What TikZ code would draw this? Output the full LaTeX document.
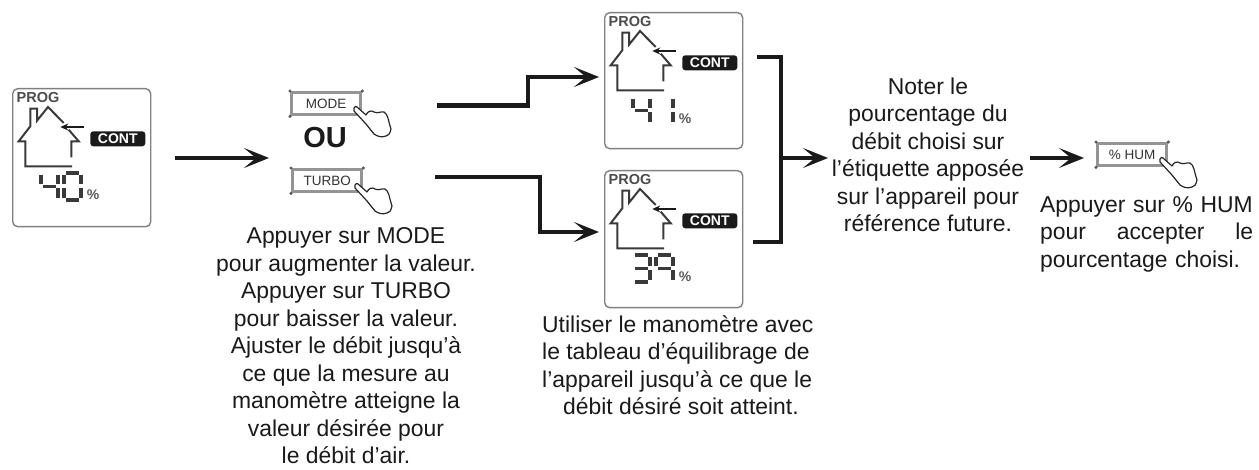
\documentclass[tikz,border=0pt]{standalone}
\usepackage{fontspec}
\setmainfont{Liberation Sans}
\usetikzlibrary{arrows.meta}
\definecolor{ink}{HTML}{1A1A1A}
\definecolor{lcd}{HTML}{3A3A3A}
\tikzset{
  x=1pt,y=-1pt,
  panelbox/.style={draw=black!50,line width=1.4pt,rounded corners=5pt,fill=white,minimum width=138pt,anchor=north west,inner sep=0pt},
  btnbox/.style={draw=black!42,fill=white,line width=3.4pt,minimum width=69pt,minimum height=22pt,anchor=north west,inner sep=0pt,font=\fontsize{13.5}{15}\selectfont,text=black!80},
  flow/.style={draw=ink,line width=4.4pt,-{Stealth[length=25pt,width=20pt,inset=12pt]}},
  flowplain/.style={draw=ink,line width=4.4pt},
  body/.style={font=\fontsize{22.9}{27.5}\selectfont,align=center,text=ink,inner sep=0pt},
  houseline/.style={draw=lcd,line width=2pt},
  handline/.style={draw=black!85,line width=1.2pt,fill=white,line join=round},
  segline/.style={draw=lcd,line width=3.5pt},
  cornerdot/.style={fill=black!65},
}
% seven-segment digit: local box 17 x 27
\newcommand{\sgA}{\draw[segline] (2,0) -- (15,0);}
\newcommand{\sgB}{\draw[segline] (17,2) -- (17,11.5);}
\newcommand{\sgC}{\draw[segline] (17,15.5) -- (17,25);}
\newcommand{\sgD}{\draw[segline] (2,27) -- (15,27);}
\newcommand{\sgE}{\draw[segline] (0,15.5) -- (0,25);}
\newcommand{\sgF}{\draw[segline] (0,2) -- (0,11.5);}
\newcommand{\sgG}{\draw[segline] (2,13.5) -- (15,13.5);}
\newcommand{\btndots}[1]{%
  \fill[cornerdot] (#1.north west) circle (1.7pt);
  \fill[cornerdot] (#1.north east) circle (1.7pt);
  \fill[cornerdot] (#1.south west) circle (1.7pt);
  \fill[cornerdot] (#1.south east) circle (1.7pt);}
\tikzset{
  digitfour/.pic={\sgB\sgC\sgF\sgG},
  digitzero/.pic={\sgA\sgB\sgC\sgD\sgE\sgF},
  digitone/.pic={\sgB\sgC},
  digitthree/.pic={\sgA\sgB\sgC\sgD\sgG},
  digitnine/.pic={\sgA\sgB\sgC\sgF\sgG},
  lcdhouse/.pic={
    \node[anchor=west,inner sep=0pt,font=\bfseries\fontsize{14.5}{16}\selectfont,text=black!70] at (4.5,10) {PROG};
    \draw[houseline,line join=miter] (60,78.3) -- (13.3,78.3) -- (13.3,53.3) -- (6.7,53.3) -- (18.3,38.3) -- (18.3,20.7) -- (25,20.7) -- (25,32.7) -- (36,19) -- (51.7,35);
    \draw[houseline] (56.7,41.7) -- (66.7,53.3) -- (59.3,53.3) -- (59.3,69.3);
    \draw[draw=ink,line width=1.6pt,-{Stealth[length=8pt,width=7pt]}] (71.7,39) -- (48.3,39);
    \node[fill=ink,rounded corners=3pt,text=white,minimum width=55pt,minimum height=15pt,inner sep=0pt,font=\bfseries\fontsize{14}{16}\selectfont] at (105.8,50.8) {CONT};
    \node[anchor=center,inner sep=0pt,font=\bfseries\fontsize{14}{16}\selectfont,text=black!65] at (81,107) {\%};
  },
  hand/.pic={
    \draw[handline] (65,18) .. controls (66,16) and (67,16) .. (68,17) -- (77,25) .. controls (79,21) and (82,20) .. (85,22) .. controls (89,24) and (92,21) .. (95,22) .. controls (99,24) and (99,30) .. (102,39) .. controls (101,44) and (99,46) .. (97,46) .. controls (92,48) and (88,46) .. (85,44) -- (77,34) -- (65,21) -- cycle;
  },
}
\begin{document}
\begin{tikzpicture}
\useasboundingbox (0,0) rectangle (1259,470);
\fill[white] (0,0) rectangle (1259,470);

% panels
\node[panelbox,minimum height=138pt] (panelA) at (12,88) {};
\node[panelbox,minimum height=136pt] (panelB) at (604,12) {};
\node[panelbox,minimum height=137pt] (panelC) at (604,170) {};
\pic at (panelA.north west) {lcdhouse};
\pic at (panelB.north west) {lcdhouse};
\pic at (panelC.north west) {lcdhouse};
\pic at ([shift={(29,85)}]panelA.north west) {digitfour};
\pic at ([shift={(52,85)}]panelA.north west) {digitzero};
\pic at ([shift={(29,85)}]panelB.north west) {digitfour};
\pic at ([shift={(52,85)}]panelB.north west) {digitone};
\pic at ([shift={(29,85)}]panelC.north west) {digitthree};
\pic at ([shift={(52,85)}]panelC.north west) {digitnine};

% buttons
\node[btnbox] (mode) at (290,91) {MODE};
\node[btnbox] (turbo) at (291,168) {TURBO};
\node[btnbox] (hum) at (1096,142) {\% HUM};
\btndots{mode}\btndots{turbo}\btndots{hum}
\pic at ([shift={(-1,-1)}]mode.north west) {hand};
\pic at ([shift={(-1,-1)}]turbo.north west) {hand};
\pic at ([shift={(-1,-1)}]hum.north west) {hand};
\node[inner sep=0pt,font=\bfseries\fontsize{29}{32}\selectfont,text=ink] (ou) at (325,138) {OU};

% anchors of connectors
\coordinate (a1s) at (175,158);
\coordinate (a1e) at (269,158);
\coordinate (m1) at (437,105.5);
\coordinate (m2) at (528,105.5);
\coordinate (m3) at (528,77);
\coordinate (m4) at (599,77);
\coordinate (t1) at (435,177);
\coordinate (t2) at (540,177);
\coordinate (t3) at (540,232);
\coordinate (t4) at (599,232);
\coordinate (b1) at (757,57);
\coordinate (b2) at (781,57);
\coordinate (b3) at (781,242);
\coordinate (b4) at (753,242);
\coordinate (bm) at (781,158);
\coordinate (be) at (828,158);
\coordinate (n1) at (1030,158);
\coordinate (n2) at (1084,158);

\draw[flow] (a1s) -- (a1e);
\draw[flow] (m1) -- (m2) -- (m3) -- (m4);
\draw[flow] (t1) -- (t2) -- (t3) -- (t4);
\draw[flowplain] (b1) -- (b2) -- (b3) -- (b4);
\draw[flow] (bm) -- (be);
\draw[flow] (n1) -- (n2);

% texts
\node[body,anchor=north] (txtA) at (346,227.5) {Appuyer sur MODE\\pour augmenter la valeur.\\Appuyer sur TURBO\\pour baisser la valeur.\\Ajuster le débit jusqu’à\\ce que la mesure au\\manomètre atteigne la\\valeur désirée pour\\le débit d’air.};
\node[body,anchor=north west,align=left] (txtB) at (542,315) {Utiliser le manomètre avec\\le tableau d’équilibrage de\\l’appareil jusqu’à ce que le\\\hspace*{21pt}débit désiré soit atteint.};
\node[body,anchor=north] (txtC) at (928,77.5) {Noter le\\pourcentage du\\débit choisi sur\\l’étiquette apposée\\sur l’appareil pour\\référence future.};
\node[body,anchor=north west,align=left,text width=213pt] (txtD) at (1040,196) {Appuyer sur \% HUM\\pour\hfill accepter\hfill le\\pourcentage choisi.};
\end{tikzpicture}
\end{document}
